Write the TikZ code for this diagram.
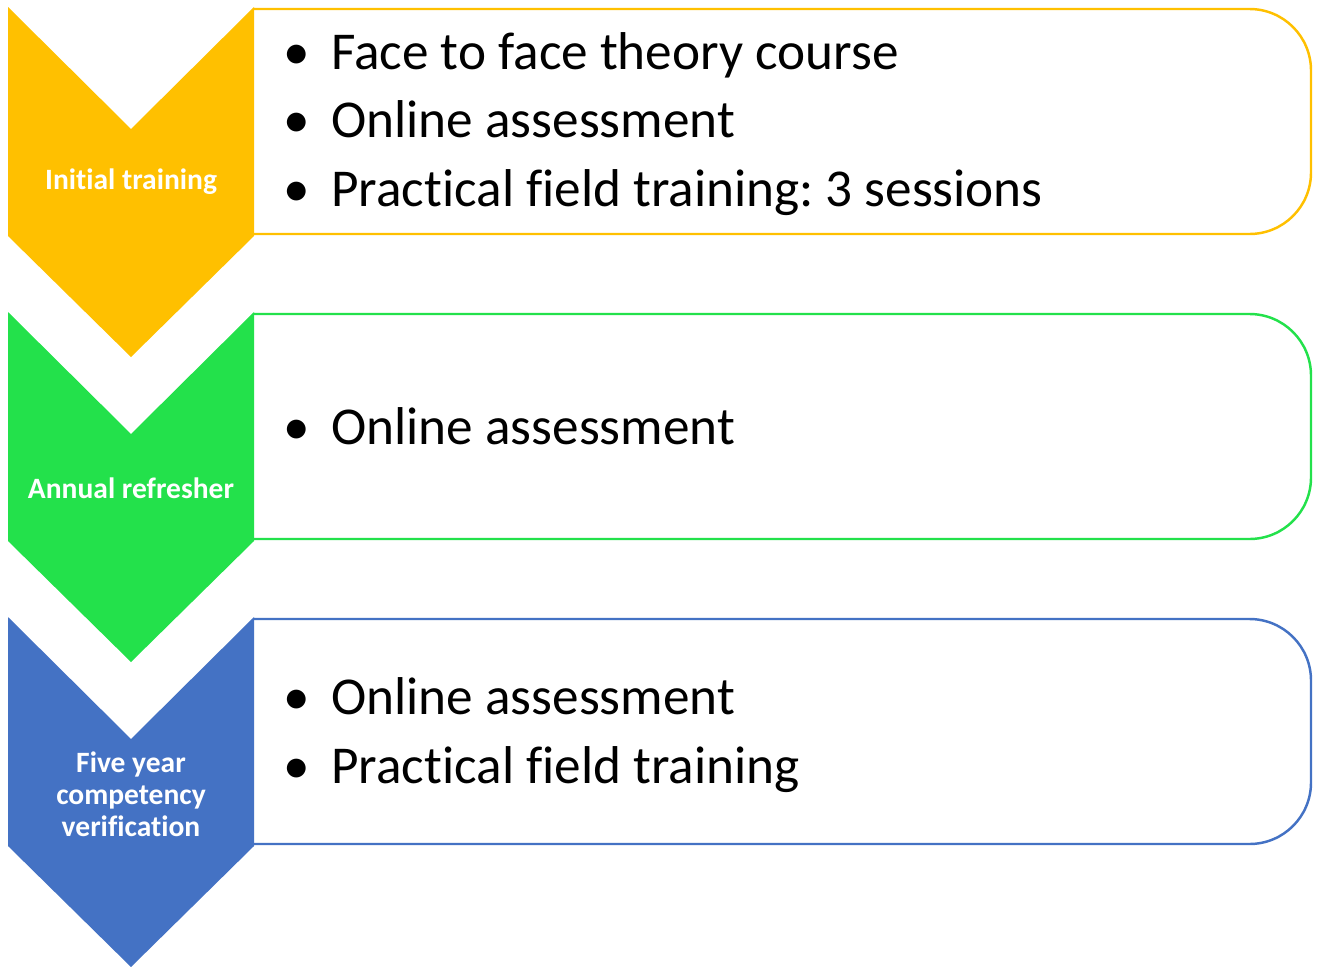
\documentclass[tikz,border=0pt]{standalone}
\usepackage{fontspec}
\setmainfont[Ligatures=NoCommon]{Carlito}
\usetikzlibrary{positioning}
\definecolor{stepyellow}{HTML}{FFC000}
\definecolor{stepgreen}{HTML}{23E14B}
\definecolor{stepblue}{HTML}{4472C4}
\frenchspacing

\begin{document}
\begin{tikzpicture}[x=0.02cm,y=-0.02cm,
   chev/.style={fill=#1},
   card/.style={draw=#1,line width=1.4pt,fill=white},
   tag/.style={text=white,font=\bfseries\fontsize{16.8}{18.1}\selectfont,align=center,inner sep=0pt},
   item/.style={anchor=base west,font=\fontsize{30.3}{34}\selectfont,inner sep=0pt},
   dot/.style={anchor=base,font=\fontsize{30.3}{34}\selectfont,inner sep=0pt}]
   \useasboundingbox (0,0) rectangle (1319,967);
   % three steps
   \foreach \y/\c in {0/stepyellow,305/stepgreen,610/stepblue}{
     \draw[card=\c,rounded corners=35] (253,9+\y) -- (1311,9+\y) -- (1311,234+\y) -- (253,234+\y);
     \fill[chev=\c] (8,7+\y) -- (131,129+\y) -- (254,7+\y) -- (254,236+\y) -- (131,357+\y) -- (8,236+\y) -- cycle;
   }
   \node[tag] (T1) at (131,182) {Initial training};
   \node[tag] (T2) at (131,488) {Annual refresher};
   \node[tag] (T3) at (131,794) {Five year\\competency\\verification};
   % bullet lists
   \foreach \n/\y/\t in {a/69/Face to face theory course,b/137/Online assessment,c/206/Practical field training: 3 sessions,
                         d/444/Online assessment,e/714/Online assessment,f/783/Practical field training}{
     \node[dot] (d\n) at (297,\y) {\textbullet};
     \node[item] (L\n) at (331,\y) {\t};
   }
\end{tikzpicture}
\end{document}
